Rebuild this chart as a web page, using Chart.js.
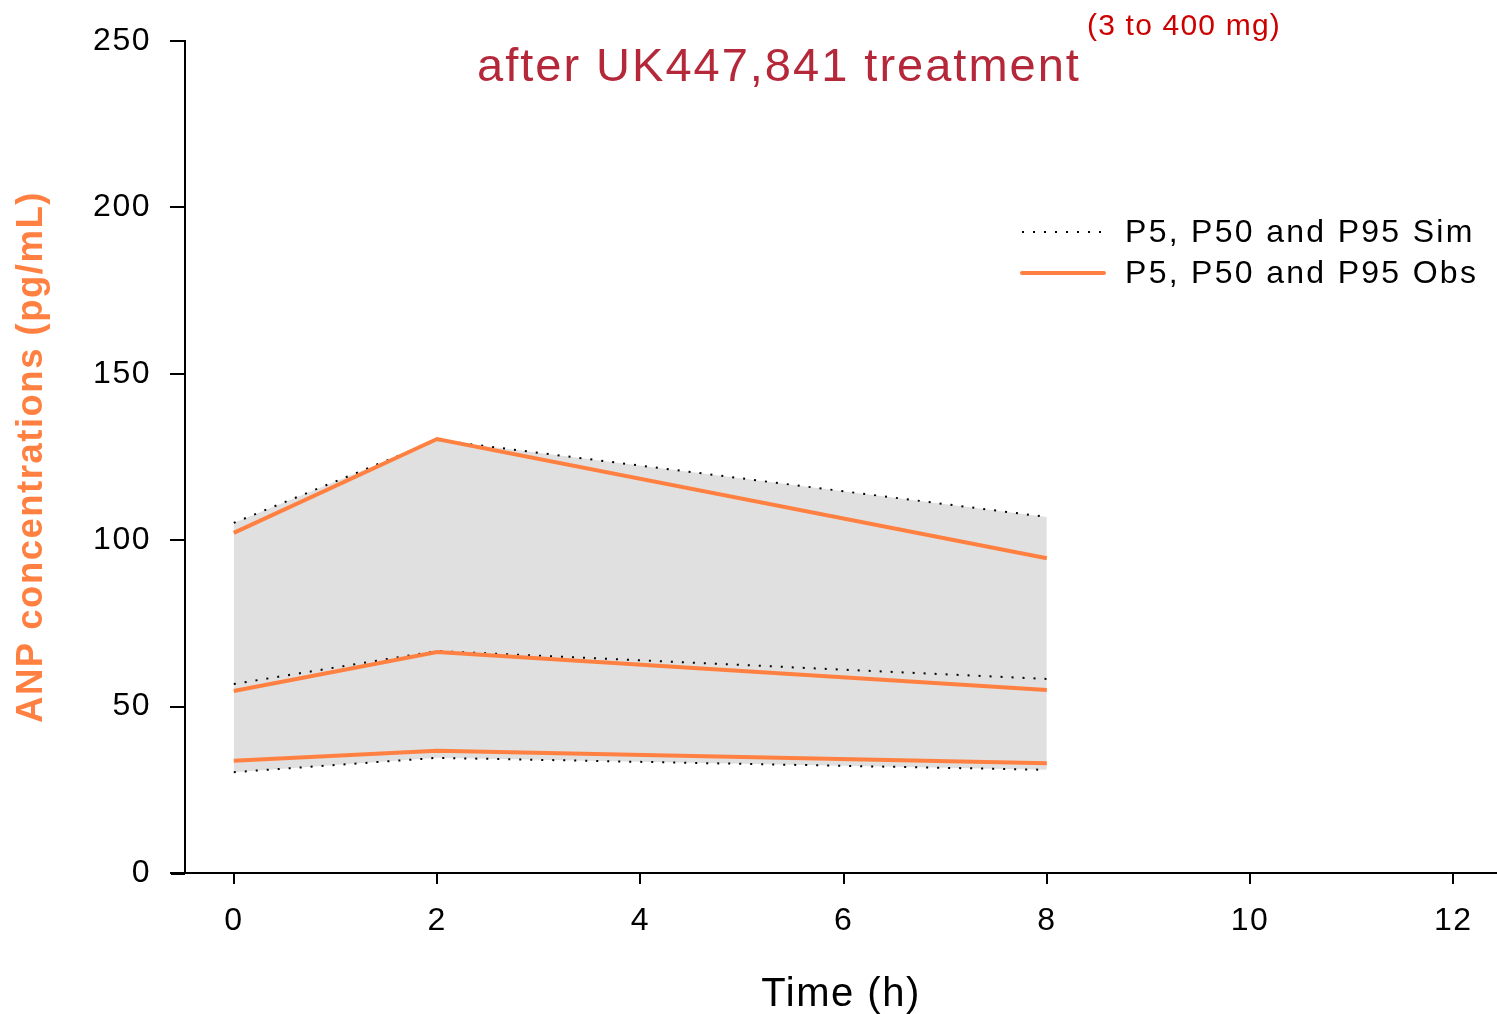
<!DOCTYPE html>
<html>
<head>
<meta charset="utf-8">
<script src="https://cdn.jsdelivr.net/npm/chart.js@4.4.1/dist/chart.umd.min.js"></script>
<style>
  html, body { margin: 0; padding: 0; background: #fff; }
  canvas { display: block; }
</style>
</head>
<body>
<canvas id="chart" width="1497" height="1014"></canvas>
<script>
// time points (h)
const timePoints = [0, 2, 8];

// simulated percentiles
const simP95 = [105.2, 130.1, 107.0];
const simP50 = [56.8, 66.7, 58.3];
const simP5 = [30.3, 34.6, 31.0];

// observed percentiles
const obsP95 = [102.2, 130.4, 94.6];
const obsP50 = [54.7, 66.4, 55.0];
const obsP5 = [33.7, 36.7, 33.0];

const xTicks = [0, 2, 4, 6, 8, 10, 12];
const yTicks = [0, 50, 100, 150, 200, 250];

const legendLabels = ['P5, P50 and P95 Sim', 'P5, P50 and P95 Obs'];
const chartTitle = 'after UK447,841 treatment';
const chartSubTitle = '(3 to 400 mg)';

const ORANGE = '#FF8040';
const FONT = '"Liberation Sans", Arial, sans-serif';
const SPACING = '1.5px';

const toPoints = values => values.map((y, i) => ({ x: timePoints[i], y }));

const obsStyle = {
  borderColor: ORANGE,
  borderWidth: 4,
  pointRadius: 0,
  fill: false,
  tension: 0
};

const simStyle = {
  borderColor: '#000',
  borderWidth: 2,
  borderDash: [2, 9],
  pointRadius: 0,
  tension: 0
};

// letter spacing is part of the canvas state, so put it back before layout and draw
const spacingPlugin = {
  id: 'spacing',
  beforeLayout (chart) { chart.ctx.letterSpacing = SPACING; },
  beforeDraw (chart) { chart.ctx.letterSpacing = SPACING; }
};

const decorPlugin = {
  id: 'decor',
  afterDraw (chart) {
    const { ctx, chartArea } = chart;
    ctx.save();

    // x axis line runs a bit past the y axis
    ctx.strokeStyle = '#000';
    ctx.lineWidth = 2;
    ctx.beginPath();
    ctx.moveTo(chartArea.left - 14, chartArea.bottom + 1);
    ctx.lineTo(chartArea.left, chartArea.bottom + 1);
    ctx.stroke();

    // title
    ctx.textBaseline = 'alphabetic';
    ctx.textAlign = 'left';
    ctx.fillStyle = '#B5283A';
    ctx.font = '47px ' + FONT;
    ctx.letterSpacing = '2px';
    ctx.fillText(chartTitle, 477, 81);
    ctx.fillStyle = '#CC0000';
    ctx.font = '30px ' + FONT;
    ctx.letterSpacing = '1.2px';
    ctx.fillText(chartSubTitle, 1087, 35);

    // legend
    const items = [
      { label: legendLabels[0], ds: chart.data.datasets[3] },
      { label: legendLabels[1], ds: chart.data.datasets[0] }
    ];
    ctx.font = '32px ' + FONT;
    ctx.letterSpacing = '2.3px';
    ctx.textBaseline = 'middle';
    items.forEach((item, i) => {
      const y = 232 + i * 41;
      ctx.strokeStyle = item.ds.borderColor;
      ctx.lineWidth = item.ds.borderWidth;
      ctx.setLineDash(item.ds.borderDash || []);
      ctx.lineCap = item.ds.borderDash ? 'butt' : 'round';
      ctx.beginPath();
      ctx.moveTo(1022, y);
      ctx.lineTo(1104, y);
      ctx.stroke();
      ctx.setLineDash([]);
      ctx.fillStyle = '#000';
      ctx.fillText(item.label, 1125, y + 1);
    });
    ctx.restore();
  }
};

new Chart(document.getElementById('chart'), {
  type: 'line',
  data: {
    datasets: [
      { label: 'Obs P95', data: toPoints(obsP95), ...obsStyle },
      { label: 'Obs P50', data: toPoints(obsP50), ...obsStyle },
      { label: 'Obs P5', data: toPoints(obsP5), ...obsStyle },
      { label: 'Sim P95', data: toPoints(simP95), ...simStyle, fill: 5, backgroundColor: '#E0E0E0' },
      { label: 'Sim P50', data: toPoints(simP50), ...simStyle, fill: false },
      { label: 'Sim P5', data: toPoints(simP5), ...simStyle, fill: false }
    ]
  },
  options: {
    responsive: false,
    animation: false,
    layout: { padding: { top: 41, right: 0, left: 0, bottom: 0 } },
    plugins: {
      legend: { display: false },
      tooltip: { enabled: false },
      filler: { drawTime: 'beforeDatasetsDraw' }
    },
    scales: {
      x: {
        type: 'linear',
        min: -0.48,
        max: 12.43,
        afterFit: scale => { scale.height = 141; },
        afterBuildTicks: scale => { scale.ticks = xTicks.map(value => ({ value })); },
        border: { color: '#000', width: 2 },
        grid: { drawOnChartArea: false, color: '#000', tickColor: '#000', lineWidth: 2, tickLength: 11 },
        ticks: { color: '#000', font: { family: FONT, size: 32 }, padding: 18, maxRotation: 0 },
        title: {
          display: true,
          text: 'Time (h)',
          color: '#000',
          font: { family: FONT, size: 40 },
          padding: { top: 30, bottom: -5 }
        }
      },
      y: {
        min: 0,
        max: 250,
        afterFit: scale => { scale.width = 185; },
        afterBuildTicks: scale => { scale.ticks = yTicks.map(value => ({ value })); },
        border: { color: '#000', width: 2 },
        grid: { drawOnChartArea: false, color: '#000', tickColor: '#000', lineWidth: 2, tickLength: 15 },
        ticks: { color: '#000', font: { family: FONT, size: 32 }, padding: 19 },
        title: {
          display: true,
          text: 'ANP concentrations (pg/mL)',
          color: ORANGE,
          font: { family: FONT, size: 36.5, weight: 'bold' },
          padding: { top: 10, bottom: 0 }
        }
      }
    }
  },
  plugins: [spacingPlugin, decorPlugin]
});
</script>
</body>
</html>
